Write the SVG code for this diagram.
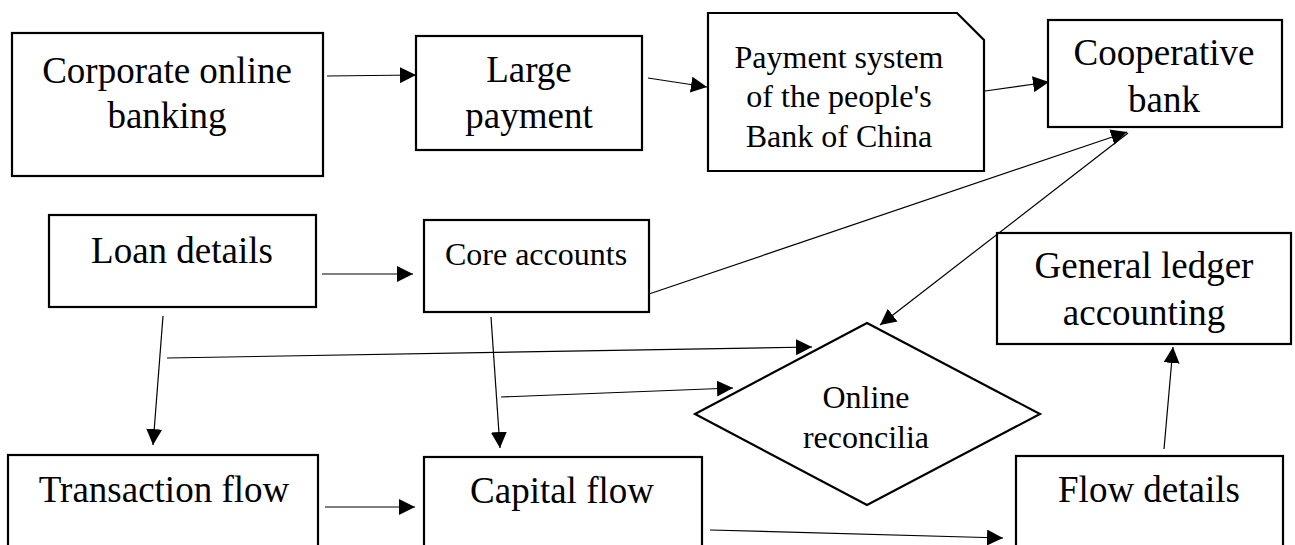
<svg xmlns="http://www.w3.org/2000/svg" width="1295" height="545" viewBox="0 0 1295 545">
<style>
.box{fill:#fff;stroke:#000;stroke-width:2.2}
.t{font-family:"Liberation Serif","Times New Roman",serif;fill:#000;text-anchor:middle}
.big{font-size:37px}
.sm{font-size:32px}
.c{fill:none;stroke:#000;stroke-width:1.2}
</style>
<defs>
<marker id="ah" markerUnits="userSpaceOnUse" markerWidth="17" markerHeight="16" refX="16" refY="8" orient="auto">
<path d="M0,0 L16,8 L0,16 z" fill="#000"/>
</marker>
</defs>
<rect width="1295" height="545" fill="#fff"/>
<g id="corporate">
<rect class="box" x="12" y="33" width="311" height="143"/>
<text class="t big" x="167" y="83">Corporate online</text>
<text class="t big" x="167" y="128">banking</text>
</g>
<g id="large">
<rect class="box" x="416" y="36" width="226" height="114"/>
<text class="t big" x="529" y="82">Large</text>
<text class="t big" x="529" y="128">payment</text>
</g>
<g id="pbc">
<path class="box" d="M708,13 L957,13 L984,40 L984,171 L708,171 Z"/>
<text class="t sm" x="839" y="68">Payment system</text>
<text class="t sm" x="839" y="107">of the people's</text>
<text class="t sm" x="839" y="147">Bank of China</text>
</g>
<g id="coop">
<rect class="box" x="1048" y="20" width="234" height="107"/>
<text class="t big" x="1164" y="65">Cooperative</text>
<text class="t big" x="1164" y="112">bank</text>
</g>
<g id="loan">
<rect class="box" x="49" y="215" width="267" height="92"/>
<text class="t big" x="182" y="263">Loan details</text>
</g>
<g id="core">
<rect class="box" x="424" y="220" width="225" height="92"/>
<text class="t sm" x="536" y="265">Core accounts</text>
</g>
<g id="ledger">
<rect class="box" x="997" y="233" width="294" height="111"/>
<text class="t big" x="1144" y="278">General ledger</text>
<text class="t big" x="1144" y="325">accounting</text>
</g>
<g id="reconcile">
<path class="box" d="M867,323 L1040,414 L867,505 L695,414 Z"/>
<text class="t sm" x="866" y="408">Online</text>
<text class="t sm" x="866" y="448">reconcilia</text>
</g>
<g id="transaction">
<rect class="box" x="8" y="455" width="310" height="100"/>
<text class="t big" x="164" y="502">Transaction flow</text>
</g>
<g id="capital">
<rect class="box" x="424" y="457" width="278" height="100"/>
<text class="t big" x="562" y="503">Capital flow</text>
</g>
<g id="flow">
<rect class="box" x="1016" y="456" width="267" height="100"/>
<text class="t big" x="1149" y="502">Flow details</text>
</g>
<g id="connectors">
<line class="c" x1="327" y1="76" x2="416" y2="75" marker-end="url(#ah)"/>
<line class="c" x1="648" y1="78" x2="707" y2="87" marker-end="url(#ah)"/>
<line class="c" x1="985" y1="91" x2="1049" y2="82" marker-end="url(#ah)"/>
<line class="c" x1="322" y1="274" x2="413" y2="274" marker-end="url(#ah)"/>
<line class="c" x1="649" y1="294" x2="1127" y2="132" marker-end="url(#ah)"/>
<line class="c" x1="1128" y1="133" x2="880" y2="325" marker-end="url(#ah)"/>
<line class="c" x1="167" y1="358" x2="812" y2="347" marker-end="url(#ah)"/>
<line class="c" x1="163" y1="316" x2="153" y2="445" marker-end="url(#ah)"/>
<line class="c" x1="491" y1="317" x2="500" y2="448" marker-end="url(#ah)"/>
<line class="c" x1="501" y1="397" x2="733" y2="388" marker-end="url(#ah)"/>
<line class="c" x1="325" y1="507" x2="415" y2="507" marker-end="url(#ah)"/>
<line class="c" x1="710" y1="530" x2="1003" y2="538" marker-end="url(#ah)"/>
<line class="c" x1="1164" y1="449" x2="1173" y2="347" marker-end="url(#ah)"/>
</g>
</svg>
